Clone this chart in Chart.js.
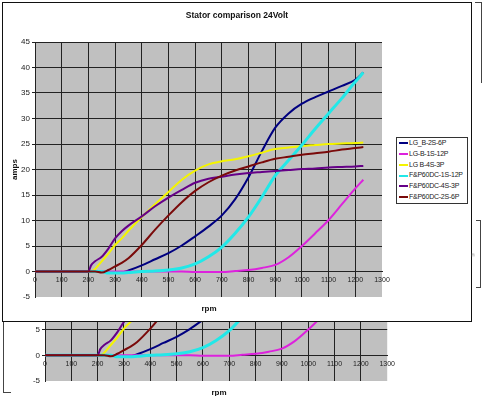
<!DOCTYPE html>
<html>
<head>
<meta charset="utf-8">
<script src="https://cdn.jsdelivr.net/npm/chart.js@4/dist/chart.umd.min.js"></script>
<style>
  body { margin:0; background:#fff; width:500px; height:396px; overflow:hidden; position:relative; font-family:"Liberation Sans", Arial, sans-serif; }
  #back { position:absolute; left:0; top:100px; }
  #frame { position:absolute; left:2px; top:2px; width:468px; height:318px; border:1px solid #111; background:#fff; }
  #main { position:absolute; left:0; top:0; }
  #legend { position:absolute; left:393px; top:134px; width:70px; border:1px solid #333; background:#fff; font-size:7px; color:#222; letter-spacing:-0.25px; }
  #legend div { height:10.8px; line-height:10.8px; white-space:nowrap; padding-left:2px; }
  #legend span.sw { display:inline-block; width:9px; height:2px; vertical-align:middle; margin-right:1px; }
  .mark { position:absolute; border-color:#444; border-style:solid; border-width:0; }
</style>
</head>
<body>
<canvas id="back" width="400" height="296"></canvas>
<div class="mark" style="left:3px;top:322px;width:7px;height:70px;border-left-width:1px;border-bottom-width:1px;"></div>
<div id="frame">
  <canvas id="main" width="468" height="318"></canvas>
  <div id="legend"></div>
</div>
<div class="mark" style="left:475px;top:2px;width:6px;height:80px;border-top-width:1px;border-right-width:1px;"></div>
<div class="mark" style="left:476px;top:220px;width:4px;height:66px;border-top-width:1px;border-right-width:1px;border-bottom-width:1px;"></div>
<div style="position:absolute;left:472px;top:252px;font-size:6px;color:#777;transform:rotate(90deg);">c</div>
<script>
// data
const rpm = [0, 100, 200, 210, 225, 250, 275, 300, 325, 350, 400, 450, 500, 550, 600, 650, 700, 750, 800, 850, 900, 950, 1000, 1050, 1100, 1150, 1200, 1230];
const lgB2S6P = [0, 0, 0, 0, 0, 0, -0.2, -0.3, -0.2, 0.2, 1.2, 2.4, 3.6, 5.1, 6.9, 8.8, 11, 14.2, 18.5, 23.6, 28.2, 31, 32.9, 34.2, 35.3, 36.4, 37.6, 39];
const lgB1S12P = [0, 0, 0, 0, 0, 0, 0, 0, 0, 0, 0, 0, 0, 0, -0.1, -0.1, -0.1, 0.1, 0.3, 0.7, 1.3, 2.8, 5, 7.5, 10.1, 13.2, 16.3, 18];
const lgB4S3P = [0, 0, 0, 0, 0.5, 2, 3.5, 5.2, 6.5, 8, 10.7, 13.2, 15.6, 18, 19.8, 21, 21.6, 22, 22.6, 23.3, 24, 24.3, 24.6, 24.8, 25, 25.1, 25.2, 25.3];
const fp1S12P = [0, 0, 0, 0, 0, 0, -0.3, -0.3, -0.3, -0.2, 0, 0.1, 0.3, 0.7, 1.5, 2.9, 4.8, 7.5, 10.7, 14.6, 18.8, 21.8, 24.8, 28, 31, 34, 37.2, 39];
const fp4S3P = [0, 0, 0, 1.2, 2, 2.9, 4.5, 6.5, 7.9, 9, 10.8, 12.8, 14.5, 16, 17.4, 18.2, 18.6, 19, 19.3, 19.5, 19.7, 19.9, 20.1, 20.2, 20.4, 20.5, 20.6, 20.7];
const fp2S6P = [0, 0, 0, 0, 0, -0.2, 0.3, 1, 1.7, 2.6, 5.2, 8.2, 11, 13.6, 15.8, 17.5, 18.8, 19.8, 20.6, 21.4, 22.1, 22.5, 22.9, 23.2, 23.5, 23.9, 24.2, 24.4];

const seriesNames = ['LG_B-2S-6P', 'LG-B-1S-12P', 'LG B-4S-3P', 'F&P60DC-1S-12P', 'F&P60DC-4S-3P', 'F&P60DC-2S-6P'];
const seriesValues = [lgB2S6P, lgB1S12P, lgB4S3P, fp1S12P, fp4S3P, fp2S6P];
const lineColors = ['#000080', '#dd22dd', '#f4f400', '#22e8e8', '#660088', '#7a0a0a'];

function makeDatasets() {
  return seriesValues.map((vals, i) => ({
    label: seriesNames[i],
    data: rpm.map((r, j) => ({x: r, y: vals[j]})),
    borderColor: lineColors[i],
    borderWidth: i === 3 ? 3 : 2,
    pointRadius: 0,
    fill: false,
    cubicInterpolationMode: 'monotone',
    order: 6 - i
  }));
}

const plotBg = {
  id: 'plotBg',
  beforeDraw(chart) {
    const {ctx, chartArea: a} = chart;
    ctx.save();
    ctx.fillStyle = '#c0c0c0';
    ctx.fillRect(a.left, a.top, a.right - a.left, a.bottom - a.top);
    ctx.restore();
  }
};

const chartTexts = {
  id: 'chartTexts',
  afterDraw(chart, args, opts) {
    const ctx = chart.ctx;
    ctx.save();
    ctx.fillStyle = '#111';
    ctx.textAlign = 'center';
    ctx.textBaseline = 'middle';
    (opts.items || []).forEach(t => {
      ctx.font = t.font;
      ctx.fillText(t.text, t.x, t.y);
    });
    ctx.restore();
  }
};

const gridCol = '#222';

function makeConfig(g) {
  return {
    type: 'line',
    data: {datasets: makeDatasets()},
    plugins: [plotBg, chartTexts],
    options: {
      responsive: false,
      animation: false,
      layout: {padding: g.padding},
      scales: {
        x: {
          type: 'linear',
          position: {y: 0},
          min: 0, max: 1300,
          ticks: {stepSize: 100, padding: g.xPad, color: '#222', font: {family: 'Liberation Sans', size: 7}, maxRotation: 0, autoSkip: false, callback: v => String(v)},
          grid: {drawTicks: false, color: c => c.tick && c.tick.value === 1300 ? 'rgba(0,0,0,0)' : gridCol},
          border: {color: gridCol}
        },
        y: {
          min: -5, max: 45,
          afterFit: s => { s.width = g.yWidth; },
          ticks: {stepSize: 5, padding: 2, color: '#222', font: {family: 'Liberation Sans', size: 8}},
          grid: {drawTicks: true, tickLength: 3, color: c => c.tick && c.tick.value === -5 ? 'rgba(0,0,0,0)' : gridCol},
          border: {color: gridCol},
          title: {display: g.yTitle, text: 'amps', color: '#111', font: {family: 'Liberation Sans', size: 8, weight: 'bold'}, padding: {top: 7, bottom: 0}}
        }
      },
      plugins: {
        legend: {display: false},
        tooltip: {enabled: false},
        chartTexts: {items: g.texts}
      }
    }
  };
}

// duplicated lower chart, mostly hidden behind the main frame
new Chart(document.getElementById('back'), makeConfig({
  padding: {left: 0, top: 24, right: 7, bottom: 15},
  yWidth: 45, xPad: 5, yTitle: false,
  texts: [{text: 'rpm', x: 219, y: 293, font: 'bold 8px "Liberation Sans"'}]
}));

new Chart(document.getElementById('main'), makeConfig({
  padding: {left: 0, top: 39, right: 89, bottom: 24},
  yWidth: 32, xPad: 4, yTitle: true,
  texts: [
    {text: 'Stator comparison 24Volt', x: 234, y: 13, font: 'bold 8.5px "Liberation Sans"'},
    {text: 'rpm', x: 206, y: 306, font: 'bold 8px "Liberation Sans"'}
  ]
}));

const legend = document.getElementById('legend');
seriesNames.forEach((name, i) => {
  const row = document.createElement('div');
  const sw = document.createElement('span');
  sw.className = 'sw';
  sw.style.background = lineColors[i];
  row.appendChild(sw);
  row.appendChild(document.createTextNode(name));
  legend.appendChild(row);
});
</script>
</body>
</html>
